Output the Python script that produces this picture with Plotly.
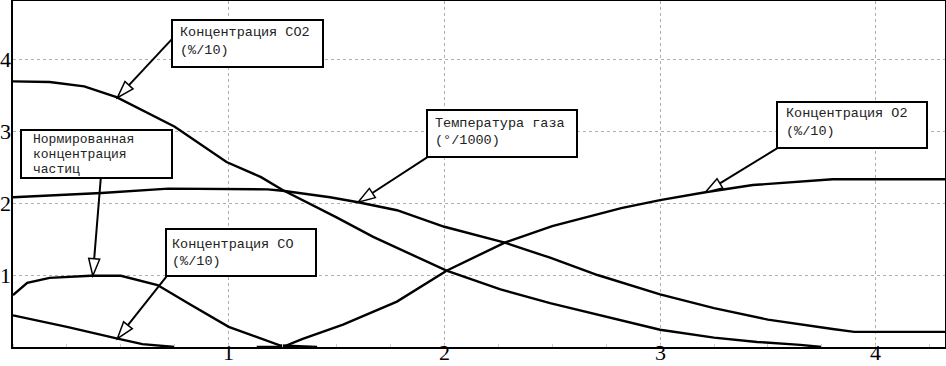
import numpy as np
import plotly.graph_objects as go

# ---------------- data ----------------
co2_x = [0, 0.17, 0.33, 0.48, 0.75, 0.99, 1.15, 1.25, 1.5, 1.67, 2.01, 2.26, 2.49, 2.71, 3.0, 3.25, 3.45, 3.65, 3.75]
co2_y = [3.69, 3.68, 3.62, 3.47, 3.06, 2.57, 2.36, 2.18, 1.8, 1.53, 1.06, 0.8, 0.61, 0.45, 0.24, 0.13, 0.07, 0.03, 0.0]

temp_x = [0, 0.41, 0.72, 1.0, 1.18, 1.25, 1.47, 1.6, 1.78, 2.0, 2.2, 2.28, 2.49, 2.71, 3.0, 3.25, 3.5, 3.65, 3.8, 3.9, 4.33]
temp_y = [2.08, 2.14, 2.2, 2.2, 2.19, 2.17, 2.08, 2.01, 1.9, 1.67, 1.51, 1.45, 1.24, 1.0, 0.73, 0.54, 0.38, 0.31, 0.25, 0.21, 0.21]

o2_x = [1.13, 1.25, 1.34, 1.53, 1.78, 2.01, 2.28, 2.5, 2.82, 3.0, 3.21, 3.43, 3.8, 4.33]
o2_y = [0, 0, 0.11, 0.31, 0.63, 1.06, 1.45, 1.68, 1.93, 2.04, 2.15, 2.25, 2.33, 2.33]

part_x = [0, 0.066, 0.17, 0.36, 0.5, 0.67, 0.81, 1.0, 1.24, 1.41]
part_y = [0.72, 0.89, 0.96, 0.99, 0.99, 0.86, 0.61, 0.28, 0.02, 0.0]

co_x = [0, 0.25, 0.48, 0.6, 0.75]
co_y = [0.44, 0.28, 0.12, 0.04, 0.0]

x_ticks = [1, 2, 3, 4]
y_ticks = [1, 2, 3, 4]
x_tick_labels = ["1", "2", "3", "4"]
y_tick_labels = ["1", "2", "3", "4"]

# label texts
lbl_co2 = ["Концентрация CO2", "(%/10)"]
lbl_part = ["Нормированная", "концентрация", "частиц"]
lbl_co = ["Концентрация CO", "(%/10)"]
lbl_temp = ["Температура газа", "(°/1000)"]
lbl_o2 = ["Концентрация O2", "(%/10)"]

# ---------------- layout geometry ----------------
W, H = 946, 366
ML, MR, MT, MB = 13, 1, 1, 19
PW = W - ML - MR
PH = H - MT - MB
XR = [0, 4.321]
YR = [0, 4.806]


def px2paper_x(px):
    return (px - ML) / PW


def py2paper_y(py):
    return (H - MB - py) / PH


fig = go.Figure()
for xs, ys in [(co2_x, co2_y), (temp_x, temp_y), (o2_x, o2_y), (part_x, part_y), (co_x, co_y)]:
    fig.add_trace(go.Scatter(x=xs, y=ys, mode="lines",
                             line=dict(color="black", width=2.4), showlegend=False,
                             hoverinfo="skip"))

shapes = []
annotations = []


def add_box(x0, y0, x1, y1, lines, tx, tys, size=13.5):
    shapes.append(dict(type="rect", xref="paper", yref="paper",
                       x0=px2paper_x(x0), x1=px2paper_x(x1),
                       y0=py2paper_y(y0), y1=py2paper_y(y1),
                       line=dict(color="black", width=2), fillcolor="white", layer="above"))
    for line, ty in zip(lines, tys):
        annotations.append(dict(xref="paper", yref="paper", x=px2paper_x(tx), y=py2paper_y(ty),
                                xanchor="left", yanchor="middle", text=line, showarrow=False,
                                font=dict(family="Liberation Mono, Courier New, monospace",
                                          size=size, color="#222"),
                                borderpad=0))


def add_arrow(xs, ys, tip_x, dx, dy, L=17, hw=5.5):
    tip_y = float(np.interp(tip_x, xs, ys))
    # screen offsets -> y-up pixel offsets
    tx, ty = dx, -dy
    n = (tx ** 2 + ty ** 2) ** 0.5
    ux, uy = tx / n, ty / n
    bx, by = ux * L, uy * L
    px_, py_ = -uy, ux
    c1 = (bx + px_ * hw, by + py_ * hw)
    c2 = (bx - px_ * hw, by - py_ * hw)
    shapes.append(dict(type="line", xref="x", yref="y", xsizemode="pixel", ysizemode="pixel",
                       xanchor=tip_x, yanchor=tip_y, x0=bx, y0=by, x1=tx, y1=ty,
                       line=dict(color="black", width=2), layer="above"))
    shapes.append(dict(type="path", xref="x", yref="y", xsizemode="pixel", ysizemode="pixel",
                       xanchor=tip_x, yanchor=tip_y,
                       path=f"M 0,0 L {c1[0]:.2f},{c1[1]:.2f} L {c2[0]:.2f},{c2[1]:.2f} Z",
                       line=dict(color="black", width=1.5), fillcolor="white", layer="above"))


add_arrow(co2_x, co2_y, 0.484, 55, -59)
add_arrow(part_x, part_y, 0.37, 8, -98)
add_arrow(co_x, co_y, 0.484, 49, -62)
add_arrow(temp_x, temp_y, 1.60, 69, -45)
add_arrow(o2_x, o2_y, 3.21, 72, -44)

add_box(172, 20, 323, 67, lbl_co2, 179, [33, 51])
add_box(21, 130, 172, 178, lbl_part, 32, [139, 154, 169], size=13)
add_box(166, 229, 316, 276, lbl_co, 171, [244, 261])
add_box(427, 110, 577, 157, lbl_temp, 434, [123, 140])
add_box(777, 102, 927, 148, lbl_o2, 785, [114, 131])

axis_font = dict(family="Liberation Serif, Times New Roman, serif", size=22, color="black")

# tick labels as annotations (placed tight against the axes like the reference)
for v, t in zip(x_ticks, x_tick_labels):
    annotations.append(dict(xref="x", yref="paper", x=v, y=py2paper_y(366),
                            xanchor="center", yanchor="bottom", text=t, showarrow=False,
                            font=axis_font, borderpad=0))
for v, t in zip(y_ticks, y_tick_labels):
    annotations.append(dict(xref="paper", yref="y", x=px2paper_x(11.5), y=v,
                            xanchor="right", yanchor="middle", text=t, showarrow=False,
                            font=axis_font, borderpad=0))

fig.update_layout(
    width=W, height=H,
    margin=dict(l=ML, r=MR, t=MT, b=MB, pad=0, autoexpand=False),
    paper_bgcolor="white", plot_bgcolor="white",
    shapes=shapes, annotations=annotations,
    xaxis=dict(range=XR, tickvals=x_ticks, showticklabels=False,
               showgrid=True, gridcolor="#b0b0b0", griddash="dot", gridwidth=1,
               showline=True, linecolor="black", linewidth=2, mirror=True,
               ticks="", zeroline=False, automargin=False,
               minor=dict(dtick=0.25, ticks="inside", ticklen=3, tickcolor="#ccc", showgrid=False)),
    yaxis=dict(range=YR, tickvals=y_ticks, showticklabels=False,
               showgrid=True, gridcolor="#b0b0b0", griddash="dot", gridwidth=1,
               showline=True, linecolor="black", linewidth=2, mirror=True,
               ticks="", zeroline=False, automargin=False),
)

fig.write_html("out.html", config={"displayModeBar": False},
               post_script="document.body.style.margin='0';document.body.style.padding='0';"
                           "document.body.style.overflow='hidden';")
